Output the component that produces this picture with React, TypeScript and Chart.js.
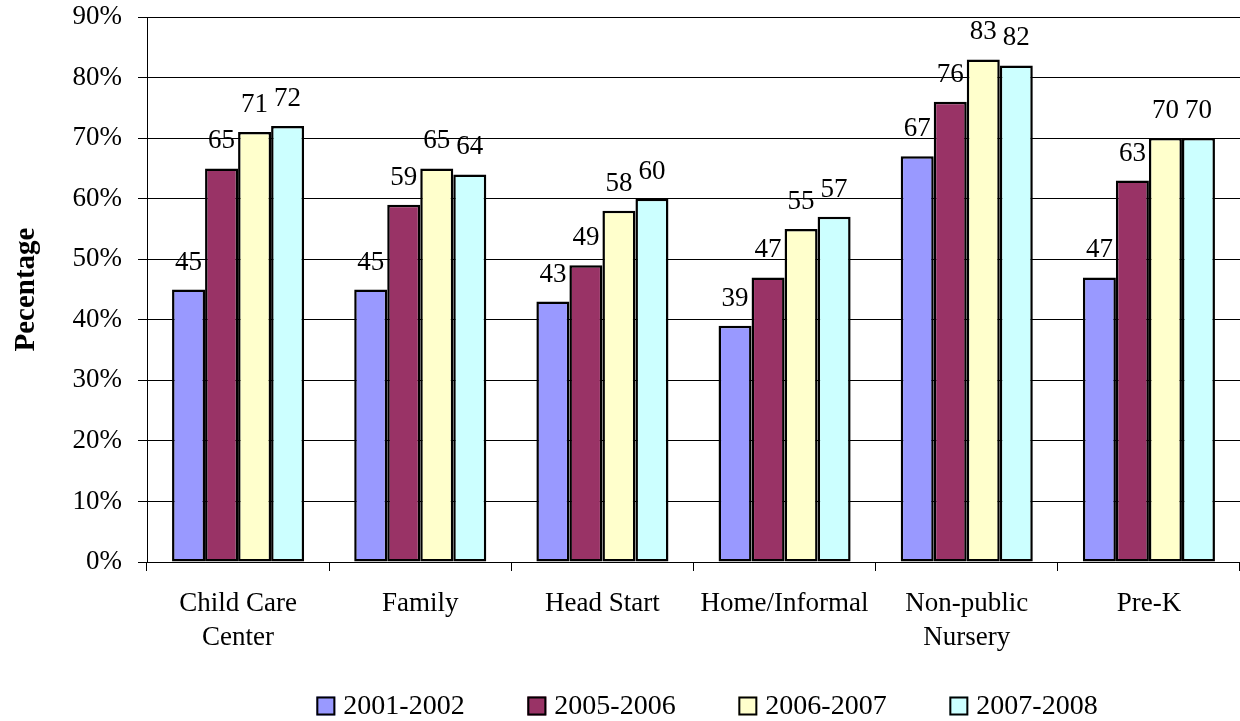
import { useEffect, useRef } from "react";
import { Chart, registerables } from "chart.js";

Chart.register(...registerables);

// Categories (multi-line labels as string arrays)
const categories: (string | string[])[] = [
  ["Child Care", "Center"],
  "Family",
  "Head Start",
  "Home/Informal",
  ["Non-public", "Nursery"],
  "Pre-K",
];

const seriesNames = ["2001-2002", "2005-2006", "2006-2007", "2007-2008"];

const values2001 = [45, 45, 43, 39, 67, 47];
const values2005 = [65, 59, 49, 47, 76, 63];
const values2006 = [71, 65, 58, 55, 83, 70];
const values2007 = [72, 64, 60, 57, 82, 70];

const yTickValues = [0, 10, 20, 30, 40, 50, 60, 70, 80, 90];

const seriesColors = ["#9999FF", "#993366", "#FFFFCC", "#CCFFFF"];

const FONT = "'Liberation Serif', 'Times New Roman', Times, serif";
const FONT_SIZE = 27;

// Numbers written above each bar
const valueLabels = {
  id: "valueLabels",
  afterDatasetsDraw(chart: any) {
    const ctx = chart.ctx;
    ctx.save();
    ctx.font = `${FONT_SIZE}px ${FONT}`;
    ctx.fillStyle = "#000";
    ctx.textAlign = "center";
    ctx.textBaseline = "alphabetic";
    chart.data.datasets.forEach((ds: any, i: number) => {
      chart.getDatasetMeta(i).data.forEach((bar: any, j: number) => {
        ctx.fillText(String(ds.data[j]), bar.x, bar.y - 20);
      });
    });
    ctx.restore();
  },
};

// Legend row at the bottom: square swatch followed by the series name
const bottomLegend = {
  id: "bottomLegend",
  afterDraw(chart: any) {
    const ctx = chart.ctx;
    ctx.save();
    ctx.font = `28px ${FONT}`;
    ctx.textBaseline = "middle";
    ctx.textAlign = "left";
    const box = 19;
    const gap = 8;
    const step = 211;
    const items = chart.data.datasets.map((ds: any) => ({
      label: ds.label as string,
      color: ds.backgroundColor as string,
      w: ctx.measureText(ds.label).width,
    }));
    const lastW = box + gap + items[items.length - 1].w;
    const total = step * (items.length - 1) + lastW;
    let x = 707 - total / 2;
    const cy = 706;
    items.forEach((it: any) => {
      ctx.fillStyle = it.color;
      ctx.fillRect(x, cy - box / 2, box, box);
      ctx.lineWidth = 2;
      ctx.strokeStyle = "#000";
      ctx.strokeRect(x + 1, cy - box / 2 + 1, box - 2, box - 2);
      ctx.fillStyle = "#000";
      ctx.fillText(it.label, x + box + gap, cy + 1);
      x += step;
    });
    ctx.restore();
  },
};

export default function App() {
  const canvasRef = useRef<HTMLCanvasElement | null>(null);

  useEffect(() => {
    if (!canvasRef.current) return;
    const seriesValues = [values2001, values2005, values2006, values2007];
    const chart = new Chart(canvasRef.current, {
      type: "bar",
      data: {
        labels: categories,
        datasets: seriesNames.map((name, i) => ({
          label: name,
          data: seriesValues[i],
          backgroundColor: seriesColors[i],
          borderColor: "#000",
          borderWidth: 2.5,
          borderSkipped: false,
          barPercentage: 1,
          categoryPercentage: 0.725,
        })),
      },
      options: {
        responsive: false,
        animation: false,
        devicePixelRatio: 1,
        layout: { padding: { top: 17, left: 0, right: 0, bottom: 0 } },
        plugins: {
          legend: { display: false },
          tooltip: { enabled: false },
        },
        scales: {
          x: {
            offset: true,
            grid: {
              display: true,
              offset: true,
              drawOnChartArea: false,
              drawTicks: true,
              tickLength: 9,
              color: "#000",
            },
            border: { display: true, color: "#000", width: 1 },
            ticks: {
              color: "#000",
              font: { family: FONT, size: FONT_SIZE, lineHeight: 1.25 },
              padding: 16,
              maxRotation: 0,
              autoSkip: false,
            },
            afterFit(scale: any) {
              scale.height = 159;
            },
          },
          y: {
            min: 0,
            max: 90,
            afterBuildTicks(scale: any) {
              scale.ticks = yTickValues.map((v) => ({ value: v }));
            },
            grid: {
              color: "#000",
              lineWidth: 1,
              drawTicks: true,
              tickLength: 9,
            },
            border: { display: true, color: "#000", width: 1 },
            ticks: {
              color: "#000",
              font: { family: FONT, size: FONT_SIZE },
              padding: 16,
              callback: (v: any) => `${v}%`,
            },
            title: {
              display: true,
              text: "Pecentage",
              color: "#000",
              font: { family: FONT, size: 29, weight: "bold" },
              padding: { top: 9, bottom: 0 },
            },
            afterFit(scale: any) {
              scale.width = 147;
              scale.paddingTop = 0;
              scale.paddingBottom = 0;
            },
          },
        },
      },
      plugins: [valueLabels, bottomLegend],
    });
    return () => chart.destroy();
  }, []);

  return (
    <div style={{ position: "absolute", left: 0, top: 0, width: 1240, height: 721, background: "#fff" }}>
      <canvas ref={canvasRef} width={1240} height={721} style={{ display: "block" }} />
    </div>
  );
}
